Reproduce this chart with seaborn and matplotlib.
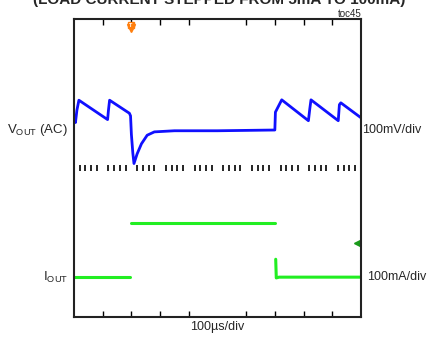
import matplotlib
matplotlib.use("Agg")
import matplotlib.pyplot as plt
import seaborn as sns
import numpy as np
import pandas as pd

# scope trace (x in divisions, y in divisions from bottom)
vout_x = [0.0, 0.05, 0.1, 0.17, 1.17, 1.2, 1.24, 1.93, 1.97, 2.0, 2.05, 2.09,
          2.2, 2.35, 2.55, 2.8, 3.5, 5.0, 7.0, 7.02, 7.24, 8.17, 8.22, 8.26,
          9.21, 9.25, 9.3, 10.0]
vout_y = [5.36, 5.22, 5.55, 5.82, 5.30, 5.55, 5.82, 5.47, 5.40, 4.9, 4.4, 4.12,
          4.38, 4.65, 4.88, 4.97, 5.0, 5.0, 5.02, 5.5, 5.83, 5.27, 5.6, 5.83,
          5.27, 5.7, 5.75, 5.35]

iout_x = [0.0, 1.95, 1.97, 7.0, 7.03, 7.05, 7.15, 10.0]
iout_y = [1.07, 1.07, 2.52, 2.52, 1.55, 1.05, 1.07, 1.07]
iout_seg = [0, 0, 1, 1, 2, 2, 2, 2]

trig_x = 1.97
gnd2_y = 2.0

sns.set_style("white")
plt.rcParams['font.family'] = ['Liberation Sans', 'DejaVu Sans']

fig = plt.figure(figsize=(4.38, 3.37), dpi=100)
ax = fig.add_axes([0.169, 0.0593, 0.655, 0.8843])

vdf = pd.DataFrame({"x": vout_x, "y": vout_y})
idf = pd.DataFrame({"x": iout_x, "y": iout_y, "seg": iout_seg})

sns.lineplot(data=vdf, x="x", y="y", ax=ax, color="#1010ff", lw=2.0,
             sort=False, estimator=None)
sns.lineplot(data=idf, x="x", y="y", units="seg", ax=ax, color="#22ee22",
             lw=2.2, sort=False, estimator=None)

ax.set_xlim(0, 10)
ax.set_ylim(0, 8)

# graticule marks
major = [1, 2, 3, 4, 6, 7, 8, 9]
ax.set_xticks(major)
ax.set_xticklabels([])
ax.set_yticks([])
ax.tick_params(axis="x", direction="in", length=4, width=1, top=True,
               bottom=True, colors="black")
minor = [m for m in np.arange(0.2, 10, 0.2) if abs(m - round(m)) > 0.05]
ax.plot(minor, [4.0] * len(minor), ls="none", marker="|", ms=4, mew=1.2,
        color="black")

for s in ax.spines.values():
    s.set_color("#222222")
    s.set_linewidth(1.5)

# trigger and ground markers
ax.plot([trig_x], [7.75], marker="v", ms=6, color="#ff7f0e", clip_on=False)
ax.plot([trig_x], [7.85], marker="s", ms=4, color="#ff7f0e", clip_on=False)
ax.text(trig_x, 7.82, "T", color="white", fontsize=4, ha="center", va="center",
        fontweight="bold")
ax.plot([9.86], [gnd2_y], marker="<", ms=5, color="#1a9a1a", clip_on=False)

# labels
fig.text(0.5, 1.0, "(LOAD CURRENT STEPPED FROM 5mA TO 100mA)",
         ha="center", va="center", fontsize=11, fontweight="bold")
fig.text(0.826, 0.958, "toc45", ha="right", va="center", fontsize=7)
fig.text(0.155, 0.614, r"V$_{\mathregular{OUT}}$ (AC)", ha="right",
         va="center", fontsize=9.5)
fig.text(0.826, 0.614, "100mV/div", ha="left", va="center", fontsize=9)
fig.text(0.155, 0.178, r"I$_{\mathregular{OUT}}$", ha="right", va="center",
         fontsize=9.5)
fig.text(0.838, 0.178, "100mA/div", ha="left", va="center", fontsize=9)
fig.text(0.497, 0.03, "100µs/div", ha="center", va="center", fontsize=9)

ax.set_xlabel("")
ax.set_ylabel("")
fig.savefig("out.png", dpi=100)
